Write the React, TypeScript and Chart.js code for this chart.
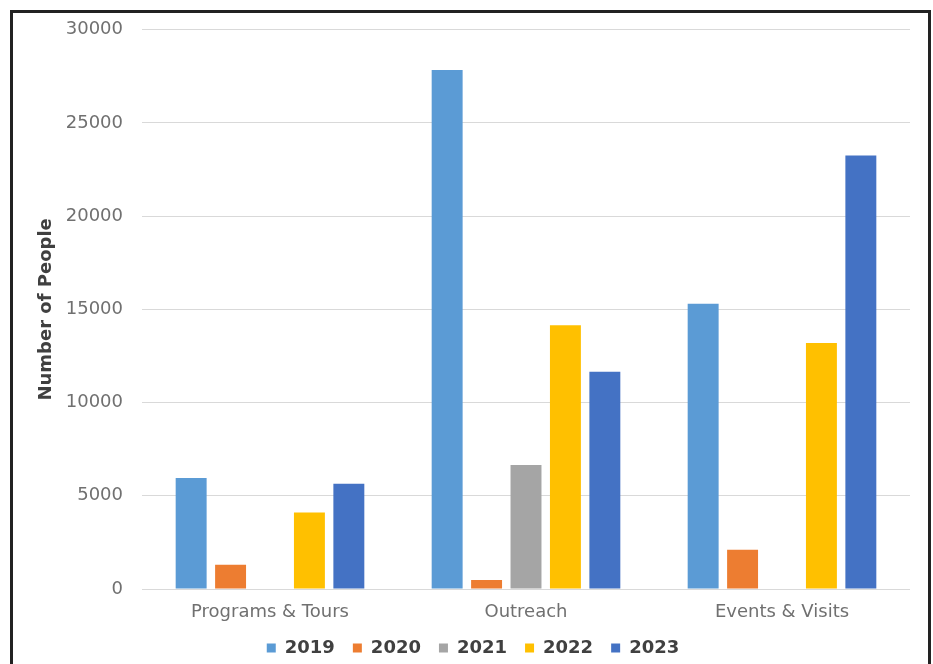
import React, { useEffect, useRef } from "react";
import { Chart, registerables } from "chart.js";

Chart.register(...registerables);

const categories = ["Programs & Tours", "Outreach", "Events & Visits"];
const years = ["2019", "2020", "2021", "2022", "2023"];
const values2019 = [5950, 27850, 15300];
const values2020 = [1300, 480, 2100];
const values2021 = [0, 6650, 0];
const values2022 = [4100, 14150, 13200];
const values2023 = [5650, 11650, 23250];
const yTicks = [0, 5000, 10000, 15000, 20000, 25000, 30000];
const colors = ["#5B9BD5", "#ED7D31", "#A5A5A5", "#FFC000", "#4472C4"];

export default function App() {
  const ref = useRef<HTMLCanvasElement | null>(null);
  useEffect(() => {
    if (!ref.current) return;
    const series = [values2019, values2020, values2021, values2022, values2023];
    const chart = new Chart(ref.current, {
      type: "bar",
      data: {
        labels: categories,
        datasets: years.map((y, i) => ({
          label: y,
          data: series[i],
          backgroundColor: colors[i],
          borderWidth: 0,
          categoryPercentage: 0.77,
          barPercentage: 0.785,
        })),
      },
      options: {
        animation: false,
        responsive: false,
        maintainAspectRatio: false,
        layout: { padding: { left: 36, right: 23, top: 29, bottom: -3 } },
        plugins: {
          tooltip: { enabled: false },
          legend: {
            position: "bottom",
            labels: {
              boxWidth: 9,
              boxHeight: 9,
              padding: 18,
              color: "#404040",
              font: { family: "DejaVu Sans", size: 18, weight: "bold" },
            },
          },
        },
        scales: {
          x: {
            afterFit: (scale: any) => {
              scale.height = 32;
            },
            grid: { display: false, drawTicks: false },
            border: { display: false },
            ticks: {
              color: "#707070",
              padding: 13,
              font: { family: "DejaVu Sans", size: 18 },
            },
          },
          y: {
            min: 0,
            max: 30000,
            afterFit: (scale: any) => {
              scale.width = 106;
            },
            afterBuildTicks: (scale: any) => {
              scale.ticks = yTicks.map((v) => ({ value: v }));
            },
            grid: { color: "#d9d9d9", lineWidth: 1, drawTicks: false },
            border: { display: false },
            ticks: {
              color: "#707070",
              padding: 19,
              font: { family: "DejaVu Sans", size: 18 },
              callback: (v: any) => String(v),
            },
            title: {
              display: true,
              text: "Number of People",
              color: "#404040",
              padding: { top: 0, bottom: 0 },
              font: { family: "DejaVu Sans", size: 18, weight: "bold" },
            },
          },
        },
      },
    });
    return () => chart.destroy();
  }, []);
  return (
    <div
      style={{
        position: "fixed",
        left: 0,
        top: 0,
        width: 933,
        height: 664,
        background: "#ffffff",
        overflow: "hidden",
      }}
    >
      <canvas ref={ref} width={933} height={664} style={{ position: "absolute", left: 0, top: 0 }} />
      <div
        style={{
          position: "absolute",
          left: 10,
          top: 10,
          width: 915,
          height: 720,
          border: "3px solid #222222",
          pointerEvents: "none",
        }}
      />
    </div>
  );
}
